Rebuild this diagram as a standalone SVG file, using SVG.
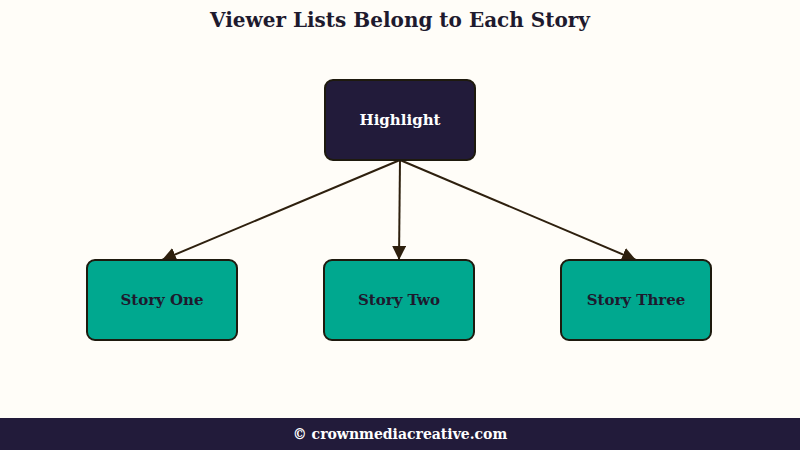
<svg xmlns="http://www.w3.org/2000/svg" width="800" height="450" viewBox="0 0 800 450">
<style>
.t{font-family:"DejaVu Serif","Liberation Serif",serif;font-weight:bold;text-anchor:middle;dominant-baseline:central}
.story rect{fill:#00a88f;stroke:#1e1a0e;stroke-width:2}
.story text{fill:#1e1a2e;font-size:15px}
.c{stroke:#2e200e;stroke-width:2;fill:none;marker-end:url(#a)}
</style>
<defs><marker id="a" viewBox="0 0 10 10" refX="10" refY="5" markerWidth="7" markerHeight="7" markerUnits="userSpaceOnUse" orient="auto"><path d="M0,0L10,5L0,10z" fill="#2e200e" transform="scale(1)"/></marker>
<marker id="b" viewBox="0 0 10 10" refX="10" refY="5" markerWidth="14" markerHeight="14" markerUnits="userSpaceOnUse" orient="auto"><path d="M0,0L10,5L0,10z" fill="#2e200e"/></marker></defs>
<rect width="800" height="450" fill="#fffdf8"/>
<text class="t" x="400" y="20" font-size="20" fill="#1e1a2e">Viewer Lists Belong to Each Story</text>
<g id="connectors" stroke="#2e200e" stroke-width="2" fill="none">
<line x1="400" y1="160" x2="162" y2="260" marker-end="url(#b)"/>
<line x1="400" y1="160" x2="399" y2="260" marker-end="url(#b)"/>
<line x1="400" y1="160" x2="636" y2="260" marker-end="url(#b)"/>
</g>
<g id="highlight"><rect x="325" y="80" width="150" height="80" rx="8" fill="#221b3a" stroke="#1e1a0e" stroke-width="2"/><text class="t" x="400" y="120" font-size="15" fill="#fff">Highlight</text></g>
<g id="story1" class="story"><rect x="87" y="260" width="150" height="80" rx="8"/><text class="t" x="162" y="300">Story One</text></g>
<g id="story2" class="story"><rect x="324" y="260" width="150" height="80" rx="8"/><text class="t" x="399" y="300">Story Two</text></g>
<g id="story3" class="story"><rect x="561" y="260" width="150" height="80" rx="8"/><text class="t" x="636" y="300">Story Three</text></g>
<rect y="418" width="800" height="32" fill="#221b3a"/>
<text class="t" x="400" y="434" font-size="14" fill="#fff">© crownmediacreative.com</text>
</svg>
